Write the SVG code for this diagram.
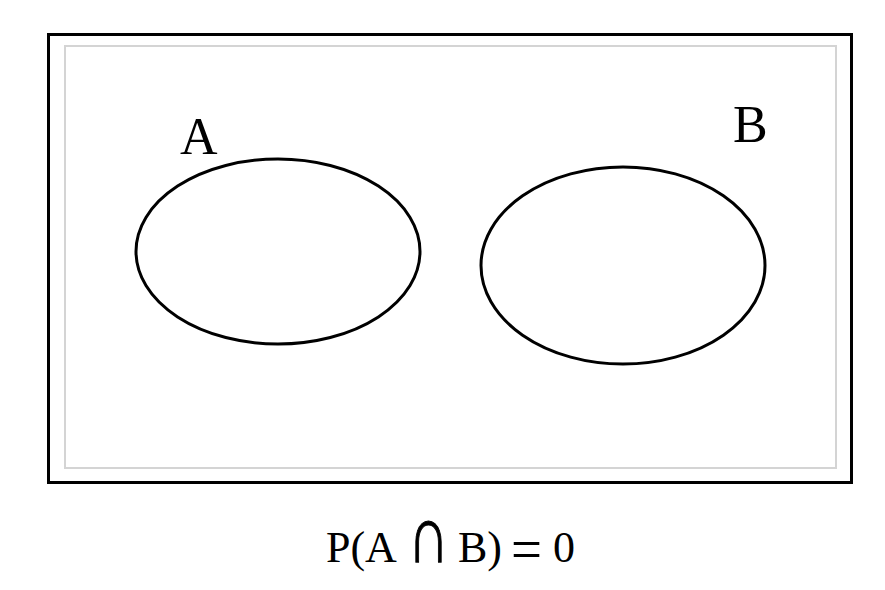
<svg xmlns="http://www.w3.org/2000/svg" width="885" height="590" viewBox="0 0 885 590">
<style>
.lbl{font-family:"Liberation Serif","Times New Roman",serif;fill:#000}
.set{fill:none;stroke:#000;stroke-width:3}
</style>
<rect x="0" y="0" width="885" height="590" fill="#fff"/>
<g id="frame">
<rect x="48.5" y="34.5" width="803" height="448" fill="#fff" stroke="#000" stroke-width="3"/>
<rect x="65" y="46" width="771" height="422" fill="none" stroke="#d4d4d4" stroke-width="2"/>
</g>
<g id="setA">
<ellipse class="set" cx="278" cy="251.5" rx="142" ry="92.5"/>
<text class="lbl" x="180" y="154" font-size="52">A</text>
</g>
<g id="setB">
<ellipse class="set" cx="623" cy="265.5" rx="142" ry="98.5"/>
<text class="lbl" x="733" y="142" font-size="52">B</text>
</g>
<g id="connectors"></g>
<g id="formula">
<text class="lbl" y="562" font-size="44"><tspan x="326">P(A</tspan><tspan x="458">B)</tspan><tspan x="553">0</tspan></text>
<text class="lbl" font-size="44" stroke="#000" stroke-width="0.6" transform="translate(408,562) scale(1.3,1.85)">∩</text>
<text class="lbl" font-size="44" transform="translate(511,570) scale(1.25,1.37)">=</text>
</g>
</svg>
